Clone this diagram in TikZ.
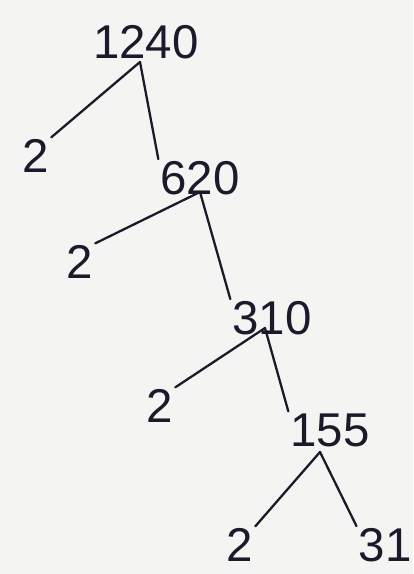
\documentclass[tikz,border=0pt]{standalone}
\usepackage{fontspec}
\setmainfont{Liberation Sans}
\definecolor{ink}{HTML}{1A1A2A}
\definecolor{paper}{HTML}{F4F4F2}
\begin{document}
\begin{tikzpicture}[x=0.02cm,y=-0.02cm,
  num/.style={text=ink,font=\fontsize{27}{30}\selectfont,inner sep=1pt},
  edge/.style={draw=ink,line width=1.3pt,line cap=round}]
\fill[paper] (0,0) rectangle (413,574);
\useasboundingbox (0,0) rectangle (413,574);
\node[num] (a) at (146,42) {1240};
\node[num] (b1) at (36,156) {2};
\node[num] (b) at (200,178) {620};
\node[num] (c1) at (80,262) {2};
\node[num] (c) at (272,318) {310};
\node[num] (d1) at (160,406) {2};
\node[num] (d) at (330,430) {155};
\node[num] (e1) at (240,545) {2};
\node[num] (e) at (385,545) {31};
\coordinate (ta) at (140,62);
\coordinate (tb) at (200,192);
\coordinate (tc) at (265,328);
\coordinate (td) at (320,452);
\draw[edge] (ta) -- (b1.north east);
\draw[edge] (ta) -- (b.north west);
\draw[edge] (tb) -- (c1.north east);
\draw[edge] (tb) -- (c.north west);
\draw[edge] (tc) -- (d1.north east);
\draw[edge] (tc) -- (d.north west);
\draw[edge] (td) -- (e1.north east);
\draw[edge] (td) -- (e.north west);
\end{tikzpicture}
\end{document}
